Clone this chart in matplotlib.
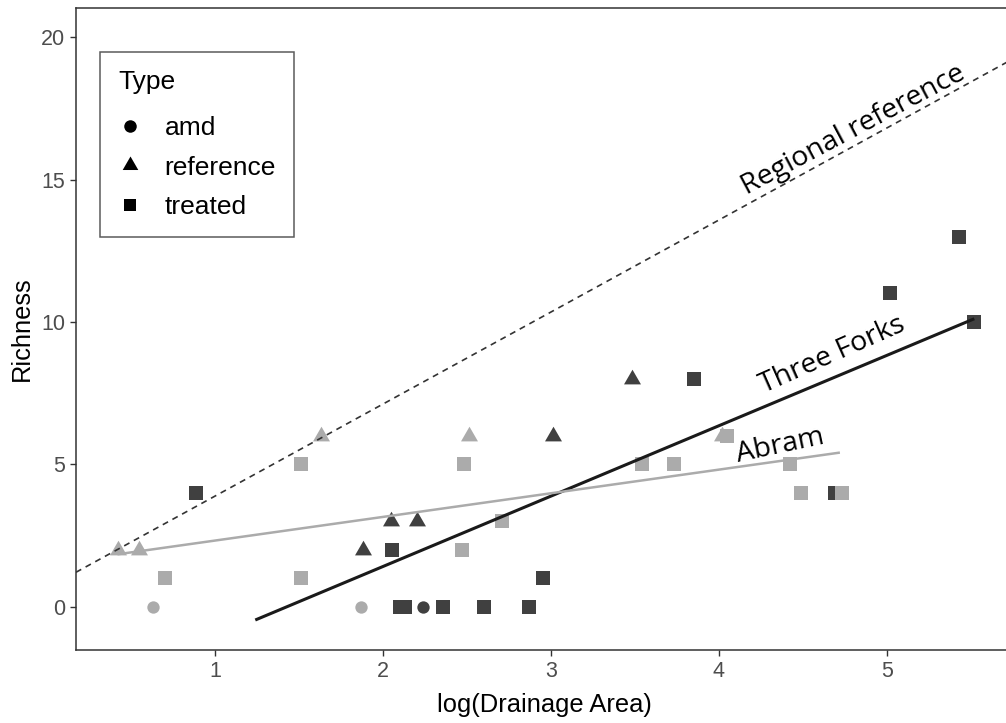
import numpy as np
import matplotlib
matplotlib.use('Agg')
import matplotlib.pyplot as plt
from matplotlib.lines import Line2D

plt.rcParams['font.family'] = ['Liberation Sans', 'DejaVu Sans']

# Three Forks sites (dark grey)
tf_amd_x = [2.24]
tf_amd_y = [0]
tf_ref_x = [1.88, 2.05, 2.20, 3.015, 3.48]
tf_ref_y = [2, 3, 3, 6, 8]
tf_trt_x = [0.885, 2.055, 2.10, 2.13, 2.36, 2.60, 2.87, 2.955, 3.85, 4.69, 5.02, 5.43, 5.52]
tf_trt_y = [4, 2, 0, 0, 0, 0, 0, 1, 8, 4, 11, 13, 10]

# Abram sites (light grey)
ab_amd_x = [0.63, 1.87]
ab_amd_y = [0, 0]
ab_ref_x = [0.42, 0.55, 1.63, 2.51, 4.02]
ab_ref_y = [2, 2, 6, 6, 6]
ab_trt_x = [0.70, 1.51, 1.51, 2.48, 2.47, 2.71, 3.54, 3.73, 4.05, 4.42, 4.49, 4.73]
ab_trt_y = [1, 5, 1, 5, 2, 3, 5, 5, 6, 5, 4, 4]

# fitted lines: intercept, slope (and x range for the site fits)
regional_fit = (0.66, 3.23)
tf_fit = (-3.52, 2.47, 1.24, 5.52)
ab_fit = (1.50, 0.83, 0.42, 4.72)

type_names = ['amd', 'reference', 'treated']

dark = '#404040'
light = '#ababab'
tri = [(0, 1), (-0.866, -0.5), (0.866, -0.5), (0, 1)]

fig = plt.figure(figsize=(10.06, 7.23), dpi=100)
ax = fig.add_axes([0.0755, 0.101, 0.9304, 0.888])

xlim = (0.1726, 5.744)
ax.set_xlim(xlim)
ax.set_ylim(-1.509, 21.02)

# points
ax.scatter(tf_amd_x, tf_amd_y, marker='o', s=79, color=dark, lw=0, zorder=3)
ax.scatter(ab_amd_x, ab_amd_y, marker='o', s=79, color=light, lw=0, zorder=3)
ax.scatter(tf_ref_x, tf_ref_y, marker=tri, s=199, color=dark, lw=0, zorder=3)
ax.scatter(ab_ref_x, ab_ref_y, marker=tri, s=199, color=light, lw=0, zorder=3)
ax.scatter(tf_trt_x, tf_trt_y, marker='s', s=92, color=dark, lw=0, zorder=3)
ax.scatter(ab_trt_x, ab_trt_y, marker='s', s=92, color=light, lw=0, zorder=3)

# lines
xr = np.array(xlim)
ax.plot(xr, regional_fit[0] + regional_fit[1] * xr, color='#333333',
        lw=1.2, ls=(0, (3.6, 3.0)), zorder=4)
xt = np.array(tf_fit[2:])
ax.plot(xt, tf_fit[0] + tf_fit[1] * xt, color='#1a1a1a', lw=2.2,
        solid_capstyle='butt', zorder=4)
xa = np.array(ab_fit[2:])
ax.plot(xa, ab_fit[0] + ab_fit[1] * xa, color=light, lw=1.8,
        solid_capstyle='butt', zorder=4)

# line labels
lab_font = dict(family=['Open Sans', 'DejaVu Sans'], fontsize=20.5,
                color='black', ha='center', va='baseline',
                rotation_mode='anchor', zorder=5)
ax.text(4.82, 16.5, 'Regional reference', rotation=28.0, **lab_font)
ax.text(4.69, 8.6, 'Three Forks', rotation=23.9, **lab_font)
ax.text(4.375, 5.40, 'Abram', rotation=12, **lab_font)

# axes styling
for side in ['left', 'bottom', 'top', 'right']:
    ax.spines[side].set_color('#333333')
    ax.spines[side].set_linewidth(1.1)
ax.set_xticks([1, 2, 3, 4, 5])
ax.set_yticks([0, 5, 10, 15, 20])
ax.tick_params(axis='both', length=4.3, width=1.0, color='#333333',
               labelsize=15.5, labelcolor='#4d4d4d', pad=3.6)
ax.set_xlabel('log(Drainage Area)', fontsize=18.4, labelpad=8)
ax.set_ylabel('Richness', fontsize=18.4, labelpad=5)

# legend
handles = [
    Line2D([], [], ls='none', marker='o', ms=9, color='black', mew=0),
    Line2D([], [], ls='none', marker=tri, ms=13, color='black', mew=0),
    Line2D([], [], ls='none', marker='s', ms=8.5, color='black', mew=0),
]
leg = ax.legend(handles, type_names, title='Type', loc='upper left',
                bbox_to_anchor=(100 / 1006, 1 - 52 / 723),
                bbox_transform=fig.transFigure, fontsize=19,
                title_fontsize=19, frameon=True, fancybox=False,
                borderpad=0.68, labelspacing=0.6, handlelength=0.92,
                handletextpad=0.84, borderaxespad=0)
leg._legend_box.align = 'left'
leg._legend_box.sep = 0.6 * 19 + 4.3
leg.get_frame().set_edgecolor('#333333')
leg.get_frame().set_linewidth(1.1)

fig.savefig('out.png', dpi=100)
